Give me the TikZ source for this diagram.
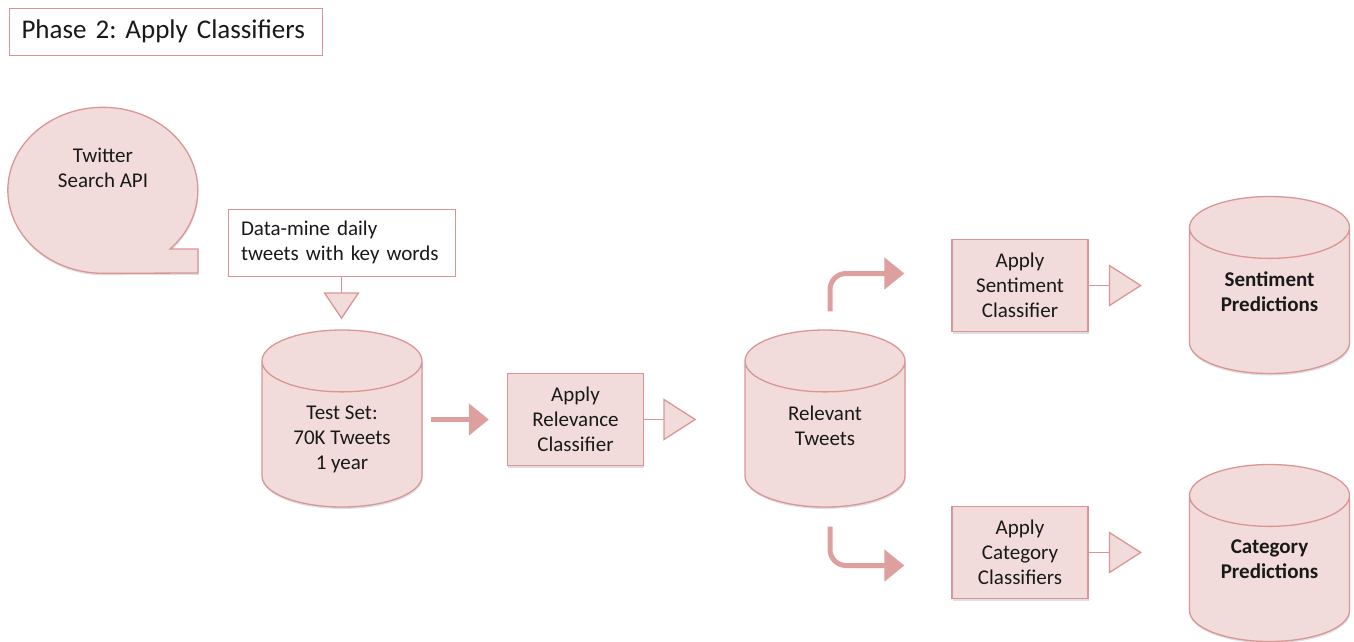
\documentclass[tikz,border=0pt]{standalone}
\usepackage{fontspec}
\setmainfont{Carlito}
\frenchspacing
\usetikzlibrary{shapes.geometric, arrows.meta, positioning, calc, shadows}
\definecolor{rosefill}{RGB}{242, 220, 219}
\definecolor{roseline}{RGB}{217, 150, 148}
\definecolor{rosearrow}{RGB}{221, 160, 158}
\newcommand{\bodysize}{\fontsize{21}{25}\selectfont}
\newcommand{\titlesize}{\fontsize{27}{32}\selectfont}
\tikzstyle{note}    = [rectangle, draw=roseline, fill=white, line width=1pt,
                       align=left, font=\bodysize]
\tikzstyle{apply}   = [rectangle, minimum width=136pt, minimum height=92pt,
                       align=center, draw=roseline, fill=rosefill, line width=1.3pt,
                       font=\bodysize, drop shadow={shadow xshift=0.5pt, shadow yshift=-2pt, opacity=0.25}]
\tikzstyle{store}   = [cylinder, shape border rotate=90, aspect=0.64, text width=90pt,
                       minimum width=160pt, minimum height=177pt, anchor=shape center,
                       draw=roseline, fill=rosefill, line width=1.3pt,
                       drop shadow={shadow xshift=0.5pt, shadow yshift=-2pt, opacity=0.25}]
\tikzstyle{storetext} = [inner sep=0pt, align=center, font=\bodysize]
\tikzstyle{hollow}  = [-{Triangle[length=33pt, width=42pt, fill=rosefill]}, draw=roseline, line width=1.3pt]
\tikzstyle{hollowdown} = [-{Triangle[length=27pt, width=36pt, fill=rosefill]}, draw=roseline, line width=1.3pt]
\tikzstyle{block}   = [-{Triangle[length=20pt, width=31pt]}, draw=rosearrow, line width=5pt]

\begin{document}
\begin{tikzpicture}[x=1pt, y=-1pt, every node/.style={text=black!90}]
  \useasboundingbox (0,0) rectangle (1354,641);

  \node (phase)  [note, minimum width=313pt, minimum height=47pt, text width=288pt,
                  inner xsep=12.5pt, font=\titlesize] at (165.5,31.5) {Phase 2: Apply Classifiers};

  % speech bubble
  \draw [roseline, fill=rosefill, line width=1.3pt,
         drop shadow={shadow xshift=0.5pt, shadow yshift=-2pt, opacity=0.25}]
        (170,249) arc[start angle=45, end angle=-270, x radius=95, y radius=83]
        -- (198,273) -- (198,249) -- cycle;
  \node (api)    [font=\bodysize, align=center] at (103,168) {Twitter\\Search API};

  \node (mine)   [note, minimum width=227pt, minimum height=67pt, text width=201pt,
                  inner xsep=13pt] at (341.5,242.5) {Data-mine daily\\tweets with key words};

  \node (test)   [store] at (342,418.5)     {};
  \node (relv)   [apply] at (575.5,419.5)   {Apply\\Relevance\\Classifier};
  \node (rel)    [store] at (825,418.5)     {};
  \node (sent)   [apply] at (1020,285.5)    {Apply\\Sentiment\\Classifier};
  \node (cat)    [apply] at (1020,552.5)    {Apply\\Category\\Classifiers};
  \node (spred)  [store] at (1269.5,285)    {};
  \node (cpred)  [store] at (1269.5,553)    {};

  % store texts hang from the top of each cylinder
  \node (testtxt)  [storetext, below=76pt of test.north]  {Test Set:\\70K Tweets\\1 year};
  \node (reltxt)   [storetext, below=76pt of rel.north]   {Relevant\\Tweets};
  \node (spredtxt) [storetext, below=76pt of spred.north, font=\bodysize\bfseries] {Sentiment\\Predictions};
  \node (cpredtxt) [storetext, below=76pt of cpred.north, font=\bodysize\bfseries] {Category\\Predictions};

  \draw [hollowdown, shorten >=10pt] (mine) -- (mine.south |- test.north);
  \draw [block, shorten <=8pt, shorten >=18pt] (test.east |- relv.west) -- (relv.west);
  \draw [hollow, shorten >=48pt] (relv.east) -- (rel.west |- relv.east);
  \draw [block, rounded corners=16pt, shorten >=47pt] ($(rel.north)+(5,-18)$) |- ($(sent.west)+(0,-12)$);
  \draw [block, rounded corners=16pt, shorten >=47pt] ($(rel.south)+(5,19)$) |- ($(cat.west)+(0,13)$);
  \draw [hollow, shorten >=47pt] (sent.east) -- (spred.west |- sent.east);
  \draw [hollow, shorten >=47pt] (cat.east) -- (cpred.west |- cat.east);
\end{tikzpicture}
\end{document}
